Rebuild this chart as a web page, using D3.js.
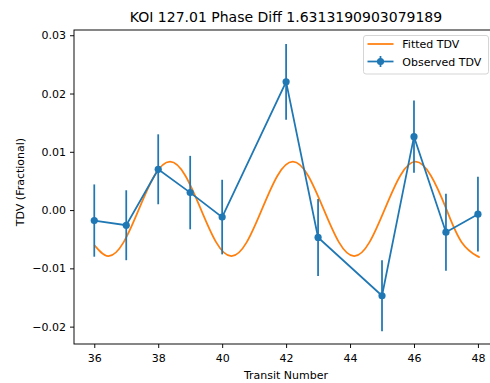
<!DOCTYPE html>
<html>
<head>
<meta charset="utf-8">
<script src="https://cdn.jsdelivr.net/npm/d3@7"></script>
<style>
  html, body { margin: 0; padding: 0; background: #fff; }
  svg { display: block; }
  text { font-family: "DejaVu Sans", sans-serif; fill: #000; }
</style>
</head>
<body>
<svg id="chart" width="490" height="383"></svg>
<script>
// ---- data ----
const title = "KOI 127.01 Phase Diff 1.6313190903079189";
const transits = [36, 37, 38, 39, 40, 42, 43, 45, 46, 47, 48];
const observed = [-0.0018, -0.0026, 0.0070, 0.0030, -0.0012, 0.0220, -0.0047, -0.0147, 0.0126, -0.0038, -0.0007];
const errors   = [0.0062, 0.0060, 0.0060, 0.0063, 0.0064, 0.0065, 0.0066, 0.0061, 0.0062, 0.0066, 0.0064];
const fitX = [36.00, 36.44, 36.92, 37.40, 37.88, 38.37, 38.85, 39.33, 39.81, 40.29, 40.77, 41.25, 41.73,
              42.21, 42.69, 43.17, 43.65, 44.13, 44.61, 45.09, 45.57, 46.05, 46.53, 47.01, 47.49, 47.98, 48.00];
const fitY = [-0.0060, -0.0079, -0.0055, 0.0002, 0.0059, 0.0083, 0.0059, 0.0002, -0.0055, -0.0079, -0.0055, 0.0002, 0.0059,
              0.0083, 0.0059, 0.0002, -0.0055, -0.0079, -0.0055, 0.0002, 0.0059, 0.0083, 0.0059, 0.0002, -0.0055, -0.0079, -0.0079];
const xTicks = [36, 38, 40, 42, 44, 46, 48];
const yTicks = [-0.02, -0.01, 0.00, 0.01, 0.02, 0.03];
const legendLabels = ["Fitted TDV", "Observed TDV"];

// ---- layout ----
const blue = "#1f77b4", orange = "#ff7f0e";
const plotL = 74, plotR = 498.2, plotT = 30, plotB = 344;
const svg = d3.select("#chart");

const x = d3.scaleLinear().domain([35.366, 48.634]).range([plotL, plotR]);
const y = d3.scaleLinear().domain([-0.02298, 0.0309]).range([plotB, plotT]);

// fitted curve
const fit = fitX.map((v, i) => [v, fitY[i]]);
svg.append("path")
  .datum(fit)
  .attr("fill", "none")
  .attr("stroke", orange)
  .attr("stroke-width", 1.75)
  .attr("d", d3.line().x(d => x(d[0])).y(d => y(d[1])).curve(d3.curveNatural));

// observed
const obs = transits.map((t, i) => ({t, v: observed[i], e: errors[i]}));
svg.append("g").selectAll("line").data(obs).join("line")
  .attr("x1", d => x(d.t)).attr("x2", d => x(d.t))
  .attr("y1", d => y(d.v - d.e)).attr("y2", d => y(d.v + d.e))
  .attr("stroke", blue).attr("stroke-width", 1.75);
svg.append("path")
  .datum(obs)
  .attr("fill", "none")
  .attr("stroke", blue)
  .attr("stroke-width", 1.75)
  .attr("d", d3.line().x(d => x(d.t)).y(d => y(d.v)));
svg.append("g").selectAll("circle").data(obs).join("circle")
  .attr("cx", d => x(d.t)).attr("cy", d => y(d.v)).attr("r", 3.6)
  .attr("fill", blue);

// spines
svg.append("rect")
  .attr("x", plotL).attr("y", plotT).attr("width", plotR - plotL).attr("height", plotB - plotT)
  .attr("fill", "none").attr("stroke", "#000").attr("stroke-width", 0.95);

// axes
const xAxis = svg.append("g").attr("transform", `translate(0,${plotB})`)
  .call(d3.axisBottom(x).tickValues(xTicks).tickFormat(d3.format("d")).tickSizeInner(4).tickSizeOuter(0).tickPadding(4));
const yAxis = svg.append("g").attr("transform", `translate(${plotL},0)`)
  .call(d3.axisLeft(y).tickValues(yTicks).tickFormat(d => d3.format(".2f")(d).replace("-", "\u2212")).tickSizeInner(4).tickSizeOuter(0).tickPadding(4));
[xAxis, yAxis].forEach(g => {
  g.select(".domain").remove();
  g.selectAll(".tick line").attr("stroke", "#000").attr("stroke-width", 0.95);
  g.selectAll(".tick text").attr("font-size", 11).attr("font-family", "DejaVu Sans").attr("fill", "#000");
});
xAxis.selectAll(".tick text").attr("dy", "0.95em");

// labels
svg.append("text").attr("x", 286).attr("y", 21.5).attr("text-anchor", "middle")
  .attr("font-size", 14).text(title);
svg.append("text").attr("x", 286).attr("y", 378.5).attr("text-anchor", "middle")
  .attr("font-size", 11).text("Transit Number");
svg.append("text").attr("transform", "translate(23.5,182) rotate(-90)").attr("text-anchor", "middle")
  .attr("font-size", 11).text("TDV (Fractional)");

// legend
const lg = svg.append("g");
lg.append("rect").attr("x", 363.5).attr("y", 35.5).attr("width", 125).attr("height", 38.5).attr("rx", 2.5)
  .attr("fill", "#fff").attr("fill-opacity", 0.8).attr("stroke", "#d5d5d5").attr("stroke-width", 1);
lg.append("line").attr("x1", 367.5).attr("x2", 393.5).attr("y1", 44).attr("y2", 44)
  .attr("stroke", orange).attr("stroke-width", 1.75);
lg.append("line").attr("x1", 367.5).attr("x2", 393.5).attr("y1", 61.5).attr("y2", 61.5)
  .attr("stroke", blue).attr("stroke-width", 1.75);
lg.append("line").attr("x1", 380.5).attr("x2", 380.5).attr("y1", 56).attr("y2", 67)
  .attr("stroke", blue).attr("stroke-width", 1.75);
lg.append("circle").attr("cx", 380.5).attr("cy", 61.5).attr("r", 3.6).attr("fill", blue);
lg.selectAll("text.lab").data(legendLabels).join("text").attr("class", "lab")
  .attr("x", 402.3).attr("y", (d, i) => 48 + i * 17.5)
  .attr("font-size", 11).text(d => d);
</script>
</body>
</html>
